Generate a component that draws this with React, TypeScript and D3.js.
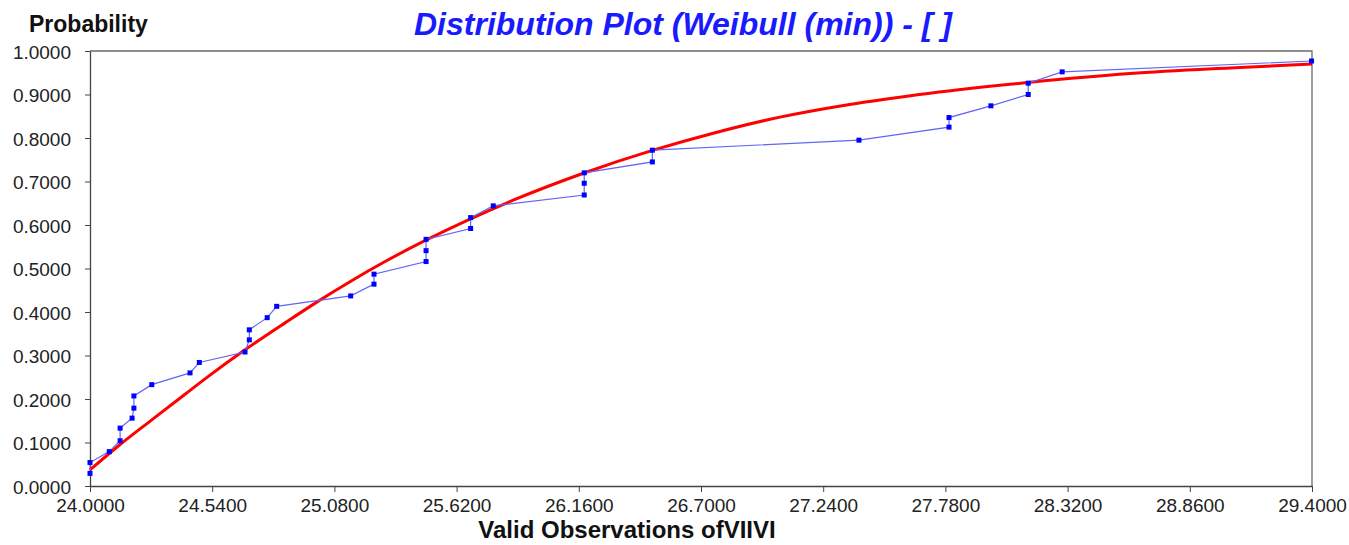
import React, { useEffect, useRef } from 'react'
import * as d3 from 'd3'

// observed points (median ranks)
const obsX = [24.0, 24.0, 24.085, 24.133, 24.133, 24.186, 24.194, 24.194, 24.273, 24.442,
  24.483, 24.685, 24.704, 24.704, 24.783, 24.825, 25.152, 25.255, 25.255, 25.485,
  25.485, 25.485, 25.682, 25.682, 25.782, 26.184, 26.184, 26.184, 26.485, 26.485,
  27.398, 27.796, 27.796, 27.981, 28.146, 28.146, 28.296, 29.398]
const obsY = [0.029, 0.054, 0.079, 0.104, 0.133, 0.156, 0.179, 0.207, 0.233, 0.260,
  0.284, 0.308, 0.336, 0.359, 0.387, 0.413, 0.437, 0.464, 0.487, 0.516,
  0.541, 0.567, 0.592, 0.617, 0.644, 0.669, 0.696, 0.720, 0.745, 0.772,
  0.795, 0.825, 0.847, 0.874, 0.900, 0.926, 0.952, 0.977]

// fitted weibull (min) curve
const fitX = [24.0, 24.125, 24.273, 24.42, 24.523, 24.685, 24.862, 25.009, 25.156, 25.304,
  25.48, 25.672, 25.87, 26.18, 26.489, 26.754, 27.049, 27.343, 27.712, 28.154,
  28.596, 29.037, 29.4]
const fitY = [0.037, 0.092, 0.152, 0.211, 0.252, 0.313, 0.375, 0.425, 0.472, 0.516,
  0.564, 0.612, 0.657, 0.719, 0.772, 0.811, 0.848, 0.876, 0.903, 0.928,
  0.948, 0.961, 0.970]

const xTicks = [24.0, 24.54, 25.08, 25.62, 26.16, 26.7, 27.24, 27.78, 28.32, 28.86, 29.4]
const yTicks = [0, 0.1, 0.2, 0.3, 0.4, 0.5, 0.6, 0.7, 0.8, 0.9, 1.0]

const title = 'Distribution Plot (Weibull (min)) - [ ]'
const yTitle = 'Probability'
const xTitle = 'Valid Observations ofVIIVI'

export default function App() {
  const ref = useRef<SVGSVGElement>(null)

  useEffect(() => {
    const width = 1349, height = 545
    const left = 90, right = 1312, top = 51, bottom = 486
    const font = '"Liberation Sans", Arial, sans-serif'

    const svg = d3.select(ref.current)
    svg.selectAll('*').remove()
    svg.attr('width', width).attr('height', height)

    const x = d3.scaleLinear().domain([24.0, 29.4]).range([left, right])
    const y = d3.scaleLinear().domain([0, 1]).range([bottom, top])
    const fmt = d3.format('.4f')

    // frame (top + right)
    svg.append('path')
      .attr('d', `M${left},${top}H${right}V${bottom}`)
      .attr('fill', 'none').attr('stroke', '#6a6a6a').attr('stroke-width', 1.3)

    const gx = svg.append('g')
      .attr('transform', `translate(0,${bottom})`)
      .call(d3.axisBottom(x).tickValues(xTicks).tickSize(6).tickSizeOuter(0).tickFormat(d => fmt(+d)))
    gx.select('.domain').attr('stroke', '#444').attr('stroke-width', 1.3)
    gx.selectAll('line').attr('stroke', '#444')
    gx.selectAll('text')
      .attr('font-family', font).attr('font-size', 19).attr('fill', '#222')
      .attr('dy', null).attr('y', 26)

    const gy = svg.append('g')
      .attr('transform', `translate(${left},0)`)
      .call(d3.axisLeft(y).tickValues(yTicks).tickSize(5).tickSizeOuter(0).tickFormat(d => fmt(+d)))
    gy.select('.domain').attr('stroke', '#444').attr('stroke-width', 1.3)
    gy.selectAll('line').attr('stroke', '#444')
    gy.selectAll('text')
      .attr('font-family', font).attr('font-size', 19).attr('fill', '#222')
      .attr('x', -19).attr('dy', null).attr('y', 7)

    // fitted curve
    const fit = fitX.map((v, i) => [v, fitY[i]] as [number, number])
    svg.append('path')
      .datum(fit)
      .attr('d', d3.line().x(d => x(d[0])).y(d => y(d[1])).curve(d3.curveMonotoneX))
      .attr('fill', 'none').attr('stroke', '#ff0000').attr('stroke-width', 3)

    // observations
    const obs = obsX.map((v, i) => [v, obsY[i]] as [number, number])
    svg.append('path')
      .datum(obs)
      .attr('d', d3.line().x(d => x(d[0])).y(d => y(d[1])))
      .attr('fill', 'none').attr('stroke', '#6464f5').attr('stroke-width', 1.2)

    svg.append('g')
      .selectAll('rect')
      .data(obs)
      .enter()
      .append('rect')
      .attr('x', d => x(d[0]) - 2.5)
      .attr('y', d => y(d[1]) - 2.5)
      .attr('width', 5)
      .attr('height', 5)
      .attr('fill', '#0000ff')

    // titles
    svg.append('text')
      .attr('x', 683).attr('y', 35)
      .attr('text-anchor', 'middle')
      .attr('font-family', font).attr('font-size', 32)
      .attr('font-weight', 'bold').attr('font-style', 'italic')
      .attr('fill', '#1a1aff')
      .text(title)

    svg.append('text')
      .attr('x', 29).attr('y', 32)
      .attr('font-family', font).attr('font-size', 23).attr('font-weight', 'bold')
      .attr('fill', '#111')
      .text(yTitle)

    svg.append('text')
      .attr('x', 627).attr('y', 538)
      .attr('text-anchor', 'middle')
      .attr('font-family', font).attr('font-size', 24).attr('font-weight', 'bold')
      .attr('fill', '#111')
      .text(xTitle)
  }, [])

  return <svg ref={ref} style={{ position: 'absolute', left: 0, top: 0, display: 'block', background: '#fff' }} />
}
